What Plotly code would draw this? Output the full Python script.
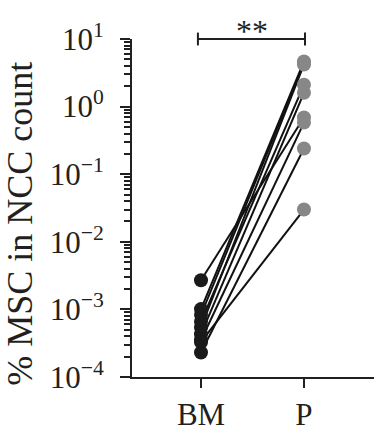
import plotly.graph_objects as go

# Data
groups = ["BM", "P"]
bm_values = [0.0027, 0.00101, 0.00083, 0.00066, 0.00054, 0.00043, 0.00035, 0.00033, 0.00023]
p_values = [0.69, 4.65, 4.4, 2.1, 4.2, 1.6, 0.58, 0.030, 0.24]
y_tickvals = [1e-4, 1e-3, 1e-2, 1e-1, 1e0, 1e1]
y_ticktext = ["10<sup>−4</sup>", "10<sup>−3</sup>", "10<sup>−2</sup>",
              "10<sup>−1</sup>", "10<sup>0</sup>", "10<sup>1</sup>"]
y_title = "% MSC in NCC count"
sig_label = "**"

FONT = "Liberation Serif"
INK = "#231f20"

# minor tick positions on the log axis (2..9 within each decade)
minor_vals = [m * d for d in [1e-4, 1e-3, 1e-2, 1e-1, 1e0] for m in range(2, 10)]

fig = go.Figure()

# paired lines
lx, ly = [], []
for b, p in zip(bm_values, p_values):
    lx += [0, 1, None]
    ly += [b, p, None]
fig.add_trace(go.Scatter(x=lx, y=ly, mode="lines",
                         line=dict(color="#111111", width=2),
                         hoverinfo="skip", showlegend=False))

fig.add_trace(go.Scatter(x=[0] * len(bm_values), y=bm_values, mode="markers",
                         marker=dict(color="#1a1a1a", size=14, line=dict(width=0)),
                         showlegend=False))
fig.add_trace(go.Scatter(x=[1] * len(p_values), y=p_values, mode="markers",
                         marker=dict(color="#878787", size=14, line=dict(width=0)),
                         showlegend=False))
# invisible trace to carry the minor-tick axis
fig.add_trace(go.Scatter(x=[0], y=[1], yaxis="y2", xaxis="x", mode="markers",
                         marker=dict(opacity=0), hoverinfo="skip", showlegend=False))

fig.update_layout(
    width=375, height=433,
    margin=dict(l=132, r=1, t=39, b=56, autoexpand=False),
    paper_bgcolor="white", plot_bgcolor="white",
    font=dict(family=FONT, color=INK, size=29),
    showlegend=False,
    yaxis2=dict(type="log", range=[-4, 1], overlaying="y", side="left", anchor="x",
                tickmode="array", tickvals=minor_vals, ticktext=[""] * len(minor_vals),
                showticklabels=True, showgrid=False,
                zeroline=False, showline=False, automargin=False,
                ticks="outside", ticklen=7, tickwidth=1.6, tickcolor="#231f20"),
)

fig.update_xaxes(
    range=[-0.67, 1.68], tickvals=[0, 1], ticktext=groups,
    automargin=False,
    showgrid=False, zeroline=False,
    showline=True, linecolor=INK, linewidth=2,
    ticks="outside", ticklen=9, tickwidth=2, tickcolor=INK,
    tickfont=dict(family=FONT, size=31, color=INK),
)

fig.layout.yaxis.update(
    type="log", range=[-4, 1],
    tickvals=y_tickvals, ticktext=y_ticktext,
    automargin=False,
    showgrid=False, zeroline=False,
    showline=True, linecolor=INK, linewidth=2,
    ticks="outside", ticklen=10, tickwidth=2, tickcolor=INK,
    ticklabelstandoff=10,
    tickfont=dict(family=FONT, size=31, color=INK),
)

# y-axis title
fig.add_annotation(text=y_title, xref="paper", yref="paper",
                   x=-0.463, y=0.453, xanchor="center", yanchor="middle",
                   textangle=-90, showarrow=False,
                   font=dict(family=FONT, size=36, color=INK))

# significance bracket
fig.add_shape(type="line", xref="x", yref="paper", x0=-0.03, x1=1.01, y0=1.0, y1=1.0,
              line=dict(color=INK, width=2))
fig.add_shape(type="line", xref="x", yref="paper", x0=-0.03, x1=-0.03, y0=0.981, y1=1.019,
              line=dict(color=INK, width=2))
fig.add_shape(type="line", xref="x", yref="paper", x0=1.01, x1=1.01, y0=0.981, y1=1.019,
              line=dict(color=INK, width=2))
fig.add_annotation(text=sig_label, xref="x", yref="paper", x=0.5, y=1.025,
                   xanchor="center", yanchor="middle", showarrow=False,
                   font=dict(family=FONT, size=32, color=INK))

fig.write_html("out.html", config={"displayModeBar": False},
               post_script="document.body.style.margin='0';")
